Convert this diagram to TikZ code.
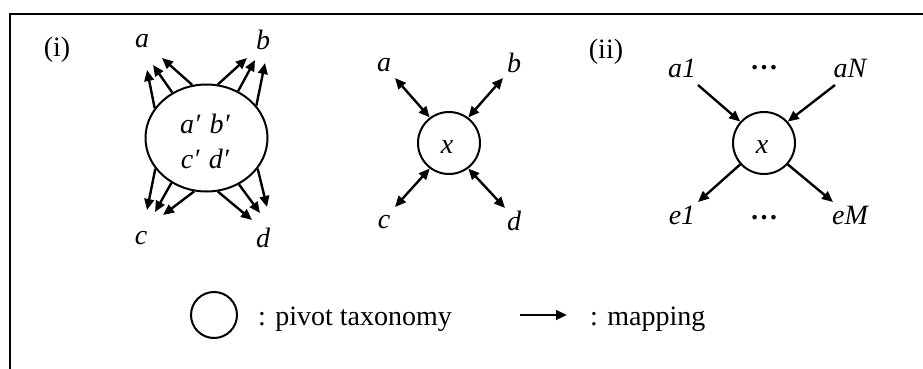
\documentclass[tikz,border=0pt]{standalone}
\usepackage{fontspec}
\setmainfont{Liberation Serif}
\usetikzlibrary{arrows.meta,shapes.geometric}
\begin{document}
\begin{tikzpicture}[x=1pt,y=-1pt,
  every node/.style={inner sep=0pt,font=\fontsize{28}{34}\selectfont},
  lbl/.style={font=\fontsize{28}{34}\selectfont\itshape},
  map/.style={line width=2.4pt,-{Triangle[length=11pt,width=9.5pt]}},
  bimap/.style={line width=2.4pt,{Triangle[length=11pt,width=9.5pt]}-{Triangle[length=11pt,width=9.5pt]}},
  pivot/.style={draw,line width=2pt,circle,minimum size=62pt}]
\useasboundingbox (0,0) rectangle (923,369);
% frame
\draw[line width=2.4pt] (10,369) -- (10,14) -- (923,14);
% (i)
\node (li) at (57,50) {(i)};
% left diagram
\node[draw,line width=2pt,ellipse,minimum width=122pt,minimum height=107pt] (E) at (206.5,138) {};
\node[lbl,anchor=base] (ab) at (205,133) {a′\,\,b′};
\node[lbl,anchor=base] (cd) at (205,168) {c′\,\,d′};
\node[lbl] (La) at (142,41) {a};
\node[lbl] (Lb) at (263,40) {b};
\node[lbl] (Lc) at (141,238) {c};
\node[lbl] (Ld) at (263,238) {d};
\coordinate (a1) at (147,70);
\coordinate (a2) at (153,65);
\coordinate (a3) at (162,58);
\coordinate (b1) at (247,58);
\coordinate (b2) at (255,60);
\coordinate (b3) at (265,63);
\coordinate (c1) at (147,210);
\coordinate (c2) at (155,212);
\coordinate (c3) at (163,215);
\coordinate (d1) at (252,220);
\coordinate (d2) at (260,213);
\coordinate (d3) at (267,207);
\draw[map] (E.150.7) -- (a1);
\draw[map] (E.127.5) -- (a2);
\draw[map] (E.105.6) -- (a3);
\draw[map] (E.78.8) -- (b1);
\draw[map] (E.56.5) -- (b2);
\draw[map] (E.33.7) -- (b3);
\draw[map] (E.211) -- (c1);
\draw[map] (E.232.7) -- (c2);
\draw[map] (E.257.5) -- (c3);
\draw[map] (E.282.5) -- (d1);
\draw[map] (E.305) -- (d2);
\draw[map] (E.329) -- (d3);
% middle diagram
\node[pivot] (X1) at (449,143) {};
\node[lbl] (x1) at (447,147) {x};
\node[lbl] (Ma) at (384,65) {a};
\node[lbl] (Mb) at (514,63) {b};
\node[lbl] (Mc) at (384,222) {c};
\node[lbl] (Md) at (514,221) {d};
\coordinate (ma) at (395,78);
\coordinate (mb) at (503,78);
\coordinate (mc) at (395,207);
\coordinate (md) at (505,208);
\draw[bimap] (ma) -- (X1.127);
\draw[bimap] (mb) -- (X1.53);
\draw[bimap] (mc) -- (X1.233);
\draw[bimap] (md) -- (X1.307);
% (ii)
\node (lii) at (606,52) {(ii)};
\node[pivot] (X2) at (764,143) {};
\node[lbl] (x2) at (762,147) {x};
\node[lbl] (A1) at (682,68) {a1};
\node[lbl] (AN) at (850,68) {aN};
\node[lbl] (E1) at (682,215) {e1};
\node[lbl] (EM) at (850,215) {eM};
\node (dots1) at (764,68) {\bfseries …};
\node (dots2) at (764,218) {\bfseries …};
\coordinate (pa1) at (698,85);
\coordinate (paN) at (835,85);
\coordinate (pe1) at (698,202);
\coordinate (peM) at (833,202);
\draw[map] (pa1) -- (X2.138);
\draw[map] (paN) -- (X2.42);
\draw[map] (X2.222) -- (pe1);
\draw[map] (X2.318) -- (peM);
% legend
\node[draw,line width=2pt,circle,minimum size=46pt] (LC) at (214,315) {};
\node[anchor=base west] (T1) at (258,325) {: pivot taxonomy};
\coordinate (m0) at (520,315);
\coordinate (m1) at (567,315);
\draw[map] (m0) -- (m1);
\node[anchor=base west] (T2) at (590,325) {: mapping};
\end{tikzpicture}
\end{document}
